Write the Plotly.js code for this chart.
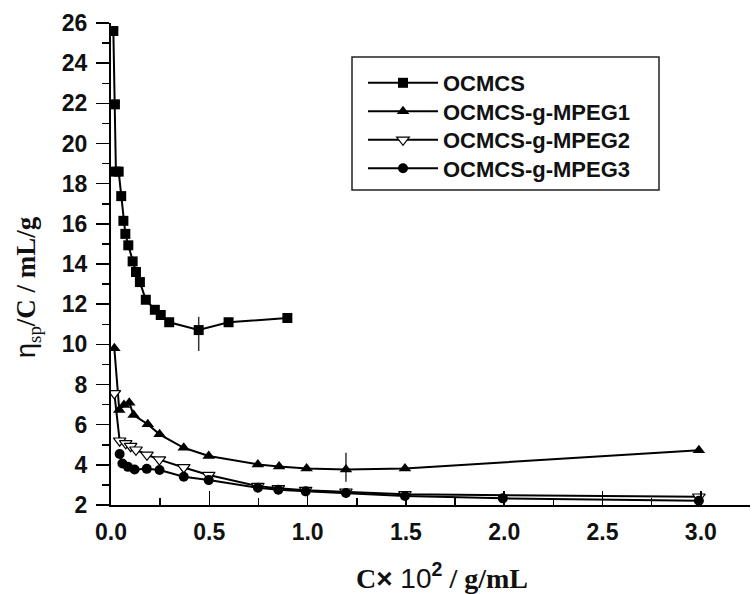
<!DOCTYPE html>
<html>
<head>
<meta charset="utf-8">
<script src="https://cdn.plot.ly/plotly-3.0.1.min.js"></script>
<style>html,body{margin:0;padding:0;background:#fff;}#chart{width:753px;height:594px;}</style>
</head>
<body>
<div id="chart"></div>
<script>
// Data
var ocmcsX = [0.012, 0.02, 0.025, 0.039, 0.052, 0.063, 0.073, 0.088, 0.11, 0.127, 0.147, 0.177, 0.223, 0.253, 0.296, 0.446, 0.598, 0.897];
var ocmcsY = [25.6, 21.95, 18.6, 18.6, 17.38, 16.15, 15.5, 14.93, 14.13, 13.6, 13.1, 12.22, 11.72, 11.46, 11.1, 10.71, 11.1, 11.31];
var ocmcsErrPlus  = [0,0,0,0,0,0,0,0,0,0,0,0,0,0,0,0.66,0,0];
var ocmcsErrMinus = [0,0,0,0,0,0,0,0,0,0,0,0,0,0,0,1.04,0,0];

var mpeg1X = [0.017, 0.042, 0.066, 0.093, 0.115, 0.187, 0.247, 0.37, 0.497, 0.747, 0.855, 0.995, 1.195, 1.495, 2.99];
var mpeg1Y = [9.8, 6.73, 6.98, 7.09, 6.48, 6.02, 5.52, 4.85, 4.44, 4.02, 3.92, 3.82, 3.77, 3.82, 4.73];
var mpeg1ErrPlus  = [0,0,0,0,0,0,0,0,0,0,0,0,0.83,0,0];
var mpeg1ErrMinus = [0,0,0,0,0,0,0,0,0,0,0,0,0.61,0,0];

var mpeg2X = [0.017, 0.044, 0.075, 0.1, 0.127, 0.183, 0.246, 0.37, 0.497, 0.747, 0.851, 0.99, 1.195, 1.495, 2.99];
var mpeg2Y = [7.56, 5.2, 5.07, 4.93, 4.75, 4.5, 4.26, 3.87, 3.49, 2.94, 2.83, 2.74, 2.66, 2.53, 2.41];

var mpeg3X = [0.044, 0.058, 0.086, 0.12, 0.182, 0.247, 0.37, 0.497, 0.747, 0.851, 0.99, 1.195, 1.495, 1.993, 2.99];
var mpeg3Y = [4.54, 4.07, 3.9, 3.77, 3.8, 3.74, 3.41, 3.24, 2.86, 2.76, 2.68, 2.6, 2.45, 2.33, 2.21];

var seriesNames = ['OCMCS', 'OCMCS-g-MPEG1', 'OCMCS-g-MPEG2', 'OCMCS-g-MPEG3'];

var xTitle = '<b>C</b><span style="font-family:\'Liberation Sans\'"><b>×</b> 10<sup><b>2</b></sup></span><b> / g/mL</b>';
var yTitle = '<span style="font-family:\'Liberation Sans\'">η</span><sub>sp</sub><b>/C / mL/g</b>';

// plot area in pixels (for placing legend rows / titles in paper coords)
var PL = 111, PR = 750, PT = 23, PB = 505;
function px2x(p) { return (p - PL) / (PR - PL); }
function px2y(p) { return (PB - p) / (PB - PT); }

var lineStyle = {color: '#000', width: 2};
var errStyle = {type: 'data', symmetric: false, width: 0, thickness: 1.5, color: '#333'};

var traces = [
  {x: ocmcsX, y: ocmcsY, name: seriesNames[0], mode: 'lines+markers', line: lineStyle, legend: 'legend',
   marker: {symbol: 'square', size: 10, color: '#000'},
   error_y: Object.assign({array: ocmcsErrPlus, arrayminus: ocmcsErrMinus}, errStyle)},
  {x: mpeg1X, y: mpeg1Y, name: seriesNames[1], mode: 'lines+markers', line: lineStyle, legend: 'legend2',
   marker: {symbol: 'triangle-up', size: 11, color: '#000'},
   error_y: Object.assign({array: mpeg1ErrPlus, arrayminus: mpeg1ErrMinus}, errStyle)},
  {x: mpeg2X, y: mpeg2Y, name: seriesNames[2], mode: 'lines+markers', line: lineStyle, legend: 'legend3',
   marker: {symbol: 'triangle-down', size: 11, color: '#fff', line: {color: '#000', width: 1.2}}},
  {x: mpeg3X, y: mpeg3Y, name: seriesNames[3], mode: 'lines+markers', line: lineStyle, legend: 'legend4',
   marker: {symbol: 'circle', size: 10, color: '#000'}}
];

var tickFont = {family: 'Liberation Sans, Arial, sans-serif', size: 23, color: '#111', weight: 'bold'};
var legendFont = {family: 'Liberation Sans, Arial, sans-serif', size: 22, color: '#111', weight: 'bold'};

function legendRow(py) {
  return {x: px2x(363), y: px2y(py), xanchor: 'left', yanchor: 'middle',
          borderwidth: 0, bgcolor: 'rgba(0,0,0,0)', font: legendFont, itemwidth: 70};
}

var layout = {
  width: 753, height: 594,
  margin: {l: PL, r: 753 - PR, t: PT, b: 594 - PB},
  paper_bgcolor: '#fff', plot_bgcolor: '#fff',
  showlegend: true,
  legend: legendRow(83),
  legend2: legendRow(111.5),
  legend3: legendRow(140),
  legend4: legendRow(168.5),
  shapes: [
    {type: 'rect', xref: 'paper', yref: 'paper',
     x0: px2x(352), x1: px2x(659), y0: px2y(190), y1: px2y(57),
     line: {color: '#222', width: 1.5}, fillcolor: 'rgba(0,0,0,0)', layer: 'above'}
  ],
  xaxis: {
    range: [0, 3.25], showgrid: false, zeroline: false,
    showline: true, linecolor: '#000', linewidth: 2,
    ticks: 'inside', ticklen: 14, tickwidth: 1.5, tickcolor: '#000',
    tick0: 0, dtick: 0.5, tickformat: '.1f',
    minor: {dtick: 0.25, ticks: 'inside', ticklen: 7, tickwidth: 1.5, tickcolor: '#000'},
    tickfont: tickFont, ticklabelstandoff: 5
  },
  yaxis: {
    range: [2, 26], showgrid: false, zeroline: false,
    showline: true, linecolor: '#000', linewidth: 2,
    ticks: 'outside', ticklen: 13, tickwidth: 1.5, tickcolor: '#000',
    tick0: 2, dtick: 2,
    minor: {dtick: 1, ticks: 'outside', ticklen: 7, tickwidth: 1.5, tickcolor: '#000'},
    tickfont: tickFont, ticklabelstandoff: 4
  },
  annotations: [
    {text: xTitle, xref: 'paper', yref: 'paper', x: px2x(442), y: px2y(576),
     xanchor: 'center', yanchor: 'middle', showarrow: false,
     font: {family: 'Liberation Serif, Times New Roman, serif', size: 28, color: '#111'}},
    {text: yTitle, xref: 'paper', yref: 'paper', x: px2x(28), y: px2y(287),
     xanchor: 'center', yanchor: 'middle', showarrow: false, textangle: -90,
     font: {family: 'Liberation Serif, Times New Roman, serif', size: 27, color: '#111'}}
  ]
};

Plotly.newPlot('chart', traces, layout, {displayModeBar: false, staticPlot: true});
</script>
</body>
</html>
